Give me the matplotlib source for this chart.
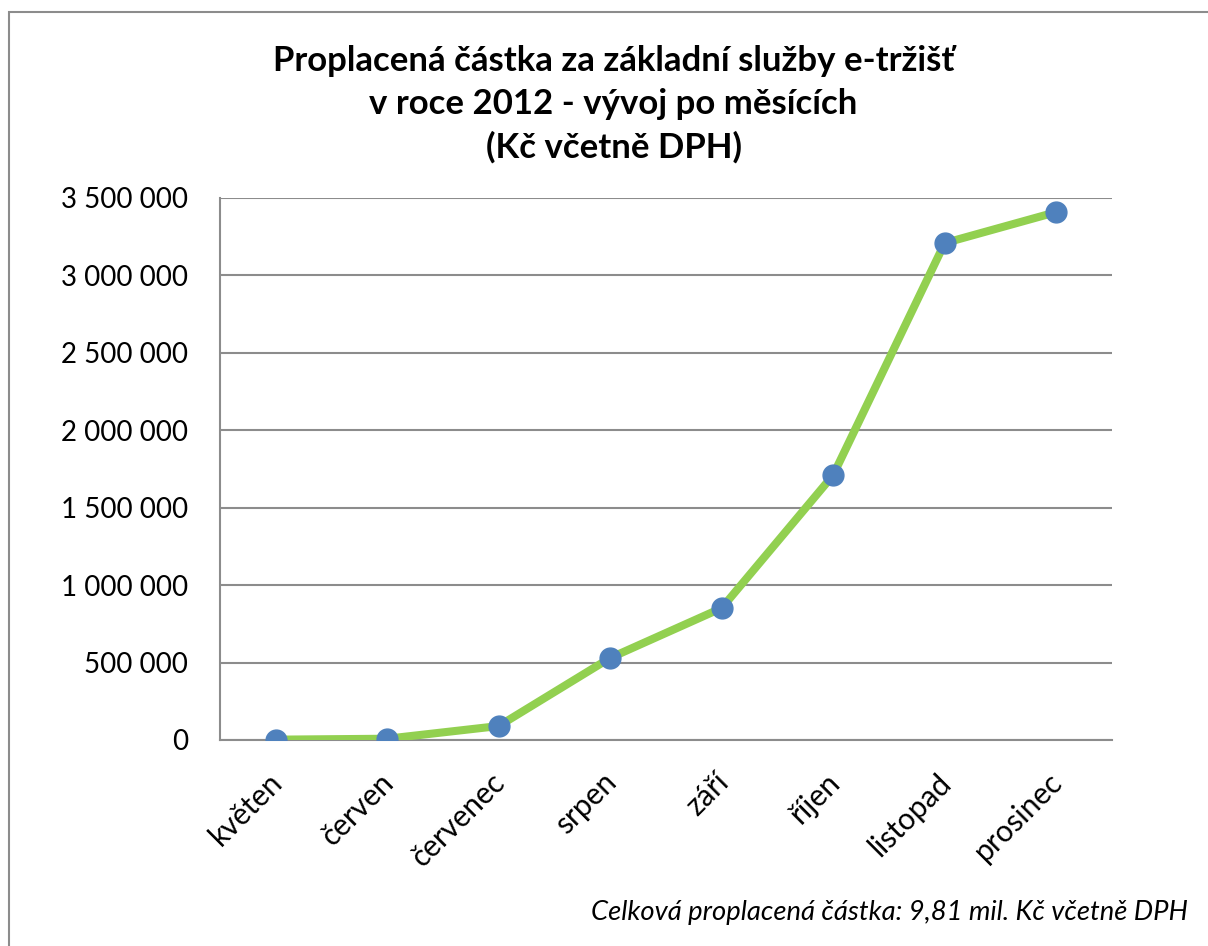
import matplotlib.pyplot as plt
from matplotlib.ticker import FuncFormatter
from matplotlib.patches import Rectangle
import matplotlib.transforms as mtransforms

plt.rcParams['font.family'] = ['Lato', 'DejaVu Sans']

# monthly amounts (Kč incl. VAT)
months = ['květen', 'červen', 'červenec', 'srpen', 'září', 'říjen', 'listopad', 'prosinec']
amounts = [2000, 8000, 90000, 530000, 852000, 1711000, 3209000, 3409000]
yticks = [0, 500000, 1000000, 1500000, 2000000, 2500000, 3000000, 3500000]

title = 'Proplacená částka za základní služby e-tržišť\nv roce 2012 - vývoj po měsících\n(Kč včetně DPH)'
note = 'Celková proplacená částka: 9,81 mil. Kč včetně DPH'

fig = plt.figure(figsize=(12.08, 9.46), dpi=100)
ax = fig.add_axes([0.1821, 0.2178, 0.7384, 0.5729])

# outer chart border (runs off the right and bottom edge)
fig.patches.append(Rectangle((9 / 1208, -0.05), 1.2, 1 - 12 / 946 + 0.05,
                             transform=fig.transFigure, fill=False,
                             edgecolor='#8c8c8c', linewidth=1.5))

x = range(len(months))
ax.plot(x, amounts, color='#92D050', linewidth=5.8, solid_capstyle='butt',
        marker='o', markersize=15, markerfacecolor='#4F81BD',
        markeredgecolor='#4F81BD', zorder=3)

ax.set_xlim(-0.5, len(months) - 0.5)
ax.set_ylim(0, 3500000)
ax.set_yticks(yticks)
ax.yaxis.set_major_formatter(FuncFormatter(lambda v, p: f'{int(v):,}'.replace(',', ' ')))
ax.grid(axis='y', color='#8c8c8c', linewidth=1.5)
ax.set_axisbelow(True)

for s in ['top', 'right']:
    ax.spines[s].set_visible(False)
for s in ['left', 'bottom']:
    ax.spines[s].set_color('#8c8c8c')
    ax.spines[s].set_linewidth(1.5)

ax.tick_params(axis='y', length=0, pad=23, labelsize=20)
ax.tick_params(axis='x', length=0, labelsize=21.5)
ax.set_xticks(list(x))
ax.set_xticklabels(months, rotation=45, ha='right', va='top', rotation_mode='anchor')
offset = mtransforms.ScaledTranslation(-0.08, -0.23, fig.dpi_scale_trans)
for lbl in ax.get_xticklabels():
    lbl.set_transform(lbl.get_transform() + offset)

fig.text(0.508, 0.890, title, ha='center', va='center', fontsize=25,
         fontweight='bold', linespacing=1.42)
fig.text(0.983, 0.035, note, ha='right', va='center', fontsize=19.7, style='italic')

fig.savefig('out.png', dpi=100)
